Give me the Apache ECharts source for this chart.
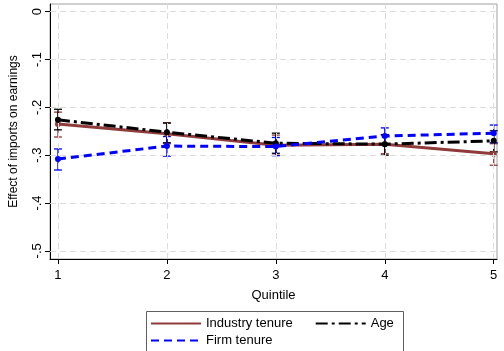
<!DOCTYPE html>
<html>
<head>
<meta charset="utf-8">
<script src="https://cdn.jsdelivr.net/npm/echarts@6/dist/echarts.min.js"></script>
<style>
  html, body { margin: 0; padding: 0; background: #fff; }
  #main { width: 504px; height: 351px; }
</style>
</head>
<body>
<div id="main"></div>
<script>
// 数据
var quintiles = [1, 2, 3, 4, 5];
var yTicks = [-0.5, -0.4, -0.3, -0.2, -0.1, 0];

var industry   = [-0.235, -0.255, -0.279, -0.277, -0.297];
var industryLo = [-0.262, -0.276, -0.300, -0.297, -0.321];
var industryHi = [-0.210, -0.232, -0.258, -0.258, -0.276];

var age   = [-0.226, -0.252, -0.275, -0.277, -0.270];
var ageLo = [-0.247, -0.274, -0.296, -0.300, -0.293];
var ageHi = [-0.204, -0.233, -0.254, -0.257, -0.249];

var firm   = [-0.308, -0.281, -0.282, -0.260, -0.254];
var firmLo = [-0.331, -0.302, -0.301, -0.279, -0.274];
var firmHi = [-0.287, -0.261, -0.263, -0.243, -0.237];

var colIndustry = '#8f3b3b';
var colFirm = '#0000ff';
var colAge = '#000000';
var font = 'Liberation Sans, Arial, sans-serif';

function pairs(vals) {
  return quintiles.map(function (q, i) { return [q, vals[i]]; });
}
function ciData(lo, hi) {
  return quintiles.map(function (q, i) { return [q, lo[i], hi[i]]; });
}

// 误差线（custom 系列）
function errorBars(name, lo, hi, color) {
  return {
    name: name,
    type: 'custom',
    data: ciData(lo, hi),
    z: 3,
    renderItem: function (params, api) {
      var x = api.value(0);
      var a = api.coord([x, api.value(1)]);
      var b = api.coord([x, api.value(2)]);
      var w = 4;
      var style = { stroke: color, lineWidth: 1.3 };
      return {
        type: 'group',
        children: [
          { type: 'line', shape: { x1: a[0], y1: a[1], x2: b[0], y2: b[1] }, style: style },
          { type: 'line', shape: { x1: a[0] - w, y1: a[1], x2: a[0] + w, y2: a[1] }, style: style },
          { type: 'line', shape: { x1: b[0] - w, y1: b[1], x2: b[0] + w, y2: b[1] }, style: style }
        ]
      };
    }
  };
}

// 网格虚线（markLine，按刻度值画）
var gridLines = quintiles.map(function (q) { return { xAxis: q }; })
  .concat(yTicks.map(function (v) { return { yAxis: v }; }));

var legendCommon = {
  itemWidth: 50, itemHeight: 10, itemGap: 22,
  textStyle: { color: '#000', fontSize: 13, fontFamily: font },
  itemStyle: { opacity: 0 },
  padding: 0
};

var myChart = echarts.init(document.getElementById('main'));
var option = {
  animation: false,
  backgroundColor: '#fff',
  grid: {
    left: 45, right: 7, top: 4, bottom: 92,
    show: true, borderColor: '#a0a0a0', borderWidth: 1
  },
  xAxis: {
    type: 'value',
    min: 0.927, max: 5.03,
    name: 'Quintile',
    nameLocation: 'middle',
    nameGap: 30,
    nameTextStyle: { color: '#000', fontSize: 13, fontFamily: font },
    axisLine: { show: true, onZero: false, lineStyle: { color: '#000', width: 1 } },
    axisTick: { show: true, length: 5, customValues: quintiles, lineStyle: { color: '#000' } },
    axisLabel: { customValues: quintiles, color: '#000', fontSize: 13, fontFamily: font, margin: 10 },
    splitLine: { show: false }
  },
  yAxis: {
    type: 'value',
    min: -0.517, max: 0.016,
    name: 'Effect of imports on earnings',
    nameLocation: 'middle',
    nameGap: 30,
    nameRotate: 90,
    nameTextStyle: { color: '#000', fontSize: 12, fontFamily: font },
    axisLine: { show: true, onZero: false, lineStyle: { color: '#000', width: 1 } },
    axisTick: { show: true, length: 5, customValues: yTicks, lineStyle: { color: '#000' } },
    axisLabel: {
      customValues: yTicks,
      rotate: 90,
      color: '#000', fontSize: 13, fontFamily: font, margin: 6,
      formatter: function (v) {
        if (Math.abs(v) < 1e-9) return '0';
        return '-.' + Math.round(Math.abs(v) * 10);
      }
    },
    splitLine: { show: false }
  },
  legend: [
    Object.assign({ left: 150, top: 317, data: ['Industry tenure', 'Age'] }, legendCommon),
    Object.assign({ left: 150, top: 334, data: ['Firm tenure'] }, legendCommon)
  ],
  graphic: [{
    type: 'rect',
    left: 144, top: 309,
    shape: { width: 257, height: 60 },
    style: { fill: 'none', stroke: '#606060', lineWidth: 1 },
    silent: true
  }],
  series: [
    {
      name: 'grid', type: 'line', data: [], z: 1, silent: true,
      markLine: {
        silent: true, symbol: ['none', 'none'], label: { show: false },
        lineStyle: { color: '#dcdcdc', type: [6, 4], width: 1 },
        data: gridLines
      }
    },
    {
      name: 'Industry tenure', type: 'line', data: pairs(industry),
      symbol: 'circle', symbolSize: 6,
      lineStyle: { color: colIndustry, width: 3 },
      itemStyle: { color: colIndustry }, z: 4
    },
    errorBars('Industry tenure', industryLo, industryHi, colIndustry),
    {
      name: 'Age', type: 'line', data: pairs(age),
      symbol: 'circle', symbolSize: 6,
      lineStyle: { color: colAge, width: 3, type: [12, 4, 3, 4] },
      itemStyle: { color: colAge }, z: 5
    },
    errorBars('Age', ageLo, ageHi, colAge),
    {
      name: 'Firm tenure', type: 'line', data: pairs(firm),
      symbol: 'circle', symbolSize: 6,
      lineStyle: { color: colFirm, width: 3, type: [8, 5] },
      itemStyle: { color: colFirm }, z: 6
    },
    errorBars('Firm tenure', firmLo, firmHi, colFirm)
  ]
};
myChart.setOption(option);
</script>
</body>
</html>
